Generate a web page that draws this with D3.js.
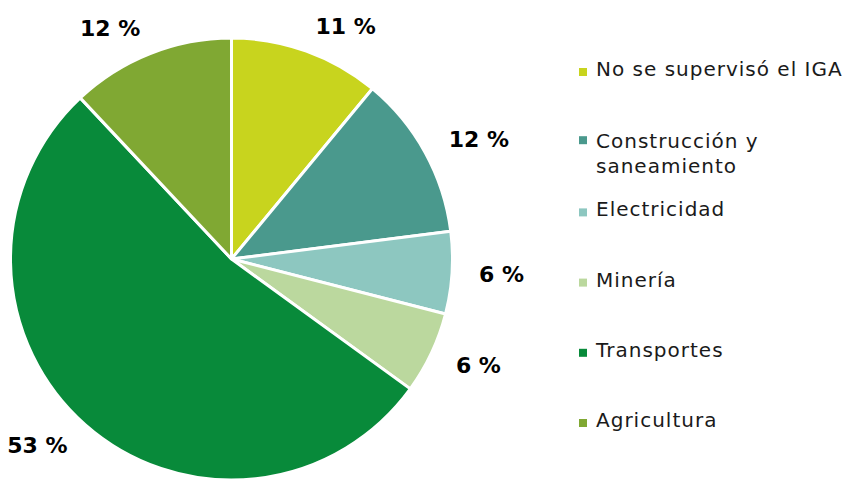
<!DOCTYPE html>
<html>
<head>
<meta charset="utf-8">
<script src="https://cdn.jsdelivr.net/npm/d3@7"></script>
<style>
  html, body { margin: 0; padding: 0; background: #ffffff; }
  svg { display: block; }
</style>
</head>
<body>
<svg id="chart" width="848" height="479"></svg>
<script>
// Distribución por sector (porcentaje)
const categories = [
  "No se supervisó el IGA",
  "Construcción y saneamiento",
  "Electricidad",
  "Minería",
  "Transportes",
  "Agricultura"
];
const values = [11, 12, 6, 6, 53, 12];
const valueLabels = ["11 %", "12 %", "6 %", "6 %", "53 %", "12 %"];
const legendLines = [
  ["No se supervisó el IGA"],
  ["Construcción y", "saneamiento"],
  ["Electricidad"],
  ["Minería"],
  ["Transportes"],
  ["Agricultura"]
];
const colors = ["#c8d41e", "#4a998d", "#8dc7c0", "#bbd89e", "#088a3a", "#80a833"];

const svg = d3.select("#chart");
const cx = 231.5, cy = 259, radius = 221;

const color = d3.scaleOrdinal().domain(categories).range(colors);

const pie = d3.pie().value(d => d.value).sort(null);
const arcs = pie(categories.map((c, i) => ({ name: c, value: values[i], label: valueLabels[i] })));
const arc = d3.arc().innerRadius(0).outerRadius(radius);

const g = svg.append("g").attr("transform", `translate(${cx},${cy})`);

g.selectAll("path.slice")
  .data(arcs)
  .enter().append("path")
  .attr("class", "slice")
  .attr("d", arc)
  .attr("fill", d => color(d.data.name))
  .attr("stroke", "#ffffff")
  .attr("stroke-width", 3)
  .attr("stroke-linejoin", "round");

// Value labels: anchored just outside the rim at each slice's mid-angle,
// starting to the right on the right half and ending on the left half.
const labelArc = d3.arc().innerRadius(248).outerRadius(248);
const midAngle = d => (d.startAngle + d.endAngle) / 2;

g.selectAll("text.value")
  .data(arcs)
  .enter().append("text")
  .attr("class", "value")
  .attr("x", d => labelArc.centroid(d)[0])
  .attr("y", d => labelArc.centroid(d)[1])
  .attr("dy", "0.36em")
  .attr("text-anchor", d => midAngle(d) < Math.PI ? "start" : "end")
  .attr("font-family", "'DejaVu Sans', sans-serif")
  .attr("font-weight", "bold")
  .attr("font-size", 22)
  .attr("fill", "#000000")
  .text(d => d.data.label);

// Legend
const legendY = d3.scalePoint()
  .domain(categories)
  .range([76, 427]);

const legend = svg.append("g").attr("class", "legend");
const items = legend.selectAll("g.item")
  .data(categories)
  .enter().append("g")
  .attr("class", "item")
  .attr("transform", d => `translate(0,${legendY(d)})`);

items.append("rect")
  .attr("x", 579)
  .attr("y", (d, i) => legendLines[i].length > 1 ? -10 : -8)
  .attr("width", 8)
  .attr("height", 8)
  .attr("fill", d => color(d));

items.append("text")
  .attr("x", 596)
  .attr("y", (d, i) => legendLines[i].length > 1 ? 2 : 0)
  .attr("font-family", "'DejaVu Sans', sans-serif")
  .attr("font-size", 20)
  .attr("letter-spacing", 1)
  .attr("fill", "#1a1a1a")
  .each(function(d, i) {
    const t = d3.select(this);
    legendLines[i].forEach((line, j) => {
      t.append("tspan")
        .attr("x", 596)
        .attr("dy", j === 0 ? 0 : 25)
        .text(line);
    });
  });
</script>
</body>
</html>
